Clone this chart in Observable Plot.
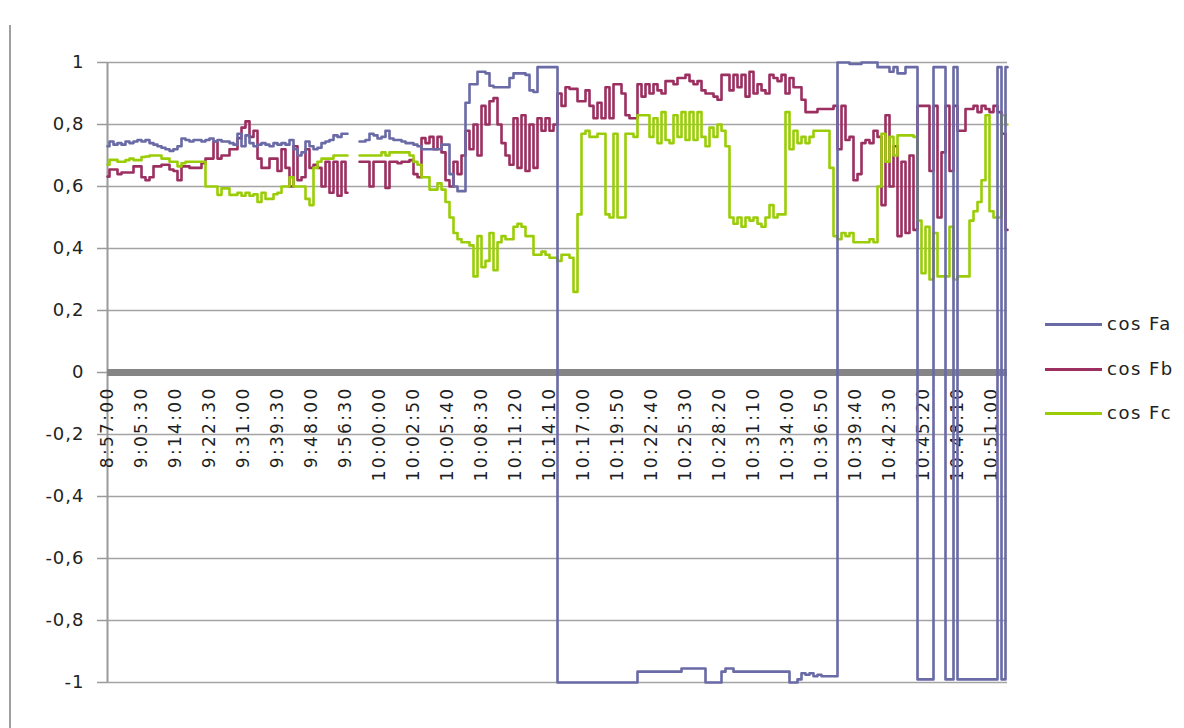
<!DOCTYPE html>
<html>
<head>
<meta charset="utf-8">
<script src="https://cdn.jsdelivr.net/npm/d3@7"></script>
<script src="https://cdn.jsdelivr.net/npm/@observablehq/plot@0.6"></script>
<style>
  html, body { margin: 0; padding: 0; background: #fff; }
  #wrap { position: relative; width: 1184px; height: 728px; overflow: hidden; font-family: "DejaVu Sans", sans-serif; }
  #frame { position: absolute; left: 9px; top: 25px; width: 0; height: 710px; border-left: 2px solid #a0a0a0; }
  #legend { position: absolute; left: 1045px; top: 310px; }
  .item { position: relative; height: 44.5px; }
  .item .sw { position: absolute; left: 0; top: 13px; width: 57px; height: 0; border-top: 3px solid; }
  .item .lb { position: absolute; left: 62px; top: 0; font-size: 18px; letter-spacing: 1.5px; color: #222; line-height: 28px; white-space: nowrap; }
  svg g[aria-label="y-axis"] line, svg g[aria-label="y-axis tick"] path, svg g[aria-label="y-axis tick"] { stroke: #9a9a9a; stroke-width: 1.5px; }
  svg g[aria-label="y-axis"] path.domain { display: none; }
</style>
</head>
<body>
<div id="wrap"><div id="frame"></div><div id="legend"></div></div>
<script>
// tick labels of the category axis (every 17th category)
const tickLabels = ["8:57:00","9:05:30","9:14:00","9:22:30","9:31:00","9:39:30","9:48:00","9:56:30",
  "10:00:00","10:02:50","10:05:40","10:08:30","10:11:20","10:14:10","10:17:00","10:19:50",
  "10:22:40","10:25:30","10:28:20","10:31:10","10:34:00","10:36:50","10:39:40","10:42:30",
  "10:45:20","10:48:10","10:51:00"];
const categoriesPerLabel = 8.5; // samples (every 2nd category) between two tick labels
const yTicks = [1, 0.8, 0.6, 0.4, 0.2, 0, -0.2, -0.4, -0.6, -0.8, -1];
const seriesNames = ["cos Fa", "cos Fb", "cos Fc"];
const seriesColors = ["#6a6aa6", "#9c2f60", "#9acd07"];

const cosFa = [
0.73,0.745,0.735,0.74,0.735,0.745,0.74,0.745,0.75,0.745,
0.75,0.74,0.735,0.73,0.725,0.72,0.715,0.72,0.73,0.755,
0.75,0.745,0.75,0.75,0.745,0.75,0.755,0.745,0.75,0.745,
0.745,0.74,0.735,0.77,0.73,0.765,0.74,0.73,0.735,0.74,
0.735,0.73,0.74,0.735,0.74,0.735,0.75,0.72,0.7,0.71,
0.745,0.73,0.72,0.725,0.74,0.745,0.75,0.765,0.76,0.77,
0.77,null,null,0.745,0.745,0.75,0.77,0.765,0.755,0.76,
0.78,0.755,0.75,0.75,0.745,0.74,0.74,0.735,0.73,0.72,
0.72,0.72,0.72,0.72,0.735,0.735,0.64,0.6,0.585,0.585,
0.87,0.93,0.93,0.97,0.97,0.965,0.925,0.92,0.92,0.92,
0.92,0.95,0.965,0.965,0.965,0.96,0.91,0.905,0.985,0.985,
0.985,0.985,0.985,-1,-1,-1,-1,-1,-1,-1,
-1,-1,-1,-1,-1,-1,-1,-1,-1,-1,
-1,-1,-1,-0.965,-0.965,-0.965,-0.965,-0.965,-0.965,-0.965,
-0.965,-0.965,-0.965,-0.965,-0.955,-0.955,-0.955,-0.955,-0.955,-0.955,
-1,-1,-1,-1,-0.965,-0.955,-0.955,-0.965,-0.965,-0.965,
-0.965,-0.965,-0.965,-0.965,-0.965,-0.965,-0.965,-0.965,-0.965,-0.965,
-0.965,-1,-1,-0.99,-0.97,-0.975,-0.97,-0.98,-0.975,-0.98,
-0.98,-0.98,-0.98,1,1,1,0.995,0.995,0.995,1,
1,1,1,0.985,0.985,0.985,0.97,0.985,0.965,0.965,
0.985,0.985,0.985,-0.99,-0.99,-0.99,-0.99,0.985,0.985,0.985,
-0.99,-0.99,0.985,-0.99,-0.99,-0.99,-0.99,-0.99,-0.99,-0.99,
-0.99,-0.99,-0.99,0.985,-0.99,0.985];

const cosFb = [
0.632,0.655,0.655,0.64,0.645,0.645,0.645,0.665,0.665,0.63,
0.62,0.63,0.665,0.665,0.67,0.67,0.655,0.65,0.62,0.665,
0.665,0.66,0.66,0.66,0.675,0.69,0.69,0.745,0.69,0.7,
0.7,0.72,0.72,0.756,0.79,0.81,0.76,0.78,0.69,0.66,
0.66,0.69,0.69,0.65,0.72,0.66,0.6,0.73,0.62,0.63,
0.72,0.66,0.67,0.66,0.6,0.68,0.58,0.68,0.57,0.68,
0.58,null,null,0.68,0.68,0.68,0.6,0.68,0.68,0.68,
0.595,0.68,0.68,0.675,0.68,0.68,0.685,0.64,0.63,0.756,
0.74,0.76,0.72,0.76,0.71,0.62,0.6,0.68,0.64,0.7,
0.78,0.72,0.8,0.7,0.86,0.8,0.875,0.885,0.8,0.74,
0.7,0.67,0.82,0.66,0.83,0.65,0.8,0.66,0.82,0.78,
0.82,0.78,0.8,0.9,0.86,0.92,0.915,0.915,0.875,0.875,
0.91,0.86,0.82,0.87,0.82,0.92,0.82,0.93,0.93,0.9,
0.83,0.82,0.82,0.93,0.89,0.93,0.9,0.93,0.91,0.9,
0.94,0.94,0.93,0.95,0.95,0.96,0.94,0.93,0.94,0.91,
0.9,0.9,0.89,0.88,0.96,0.96,0.91,0.96,0.92,0.96,
0.89,0.97,0.9,0.93,0.91,0.9,0.96,0.95,0.94,0.96,
0.9,0.95,0.92,0.92,0.88,0.84,0.84,0.84,0.85,0.85,
0.85,0.85,0.86,0.72,0.86,0.75,0.76,0.62,0.64,0.74,
0.75,0.74,0.78,0.76,0.54,0.83,0.6,0.73,0.44,0.68,
0.45,0.7,0.46,0.86,0.86,0.86,0.65,0.86,0.5,0.71,
0.86,0.65,0.86,0.78,0.78,0.85,0.85,0.86,0.84,0.86,
0.85,0.84,0.86,0.84,0.77,0.46];

const cosFc = [
0.67,0.686,0.686,0.68,0.68,0.685,0.69,0.685,0.685,0.695,
0.697,0.7,0.7,0.7,0.69,0.69,0.68,0.68,0.665,0.675,
0.68,0.68,0.68,0.68,0.68,0.6,0.6,0.6,0.573,0.594,
0.594,0.573,0.573,0.58,0.57,0.58,0.57,0.575,0.55,0.58,
0.56,0.56,0.575,0.58,0.6,0.6,0.63,0.6,0.6,0.6,
0.56,0.54,0.66,0.68,0.69,0.69,0.69,0.7,0.7,0.7,
0.7,null,null,0.7,0.7,0.7,0.7,0.7,0.7,0.71,
0.7,0.71,0.71,0.71,0.71,0.71,0.7,0.68,0.67,0.63,
0.63,0.59,0.59,0.61,0.59,0.55,0.5,0.45,0.43,0.42,
0.42,0.41,0.31,0.44,0.34,0.36,0.45,0.33,0.42,0.44,
0.43,0.43,0.47,0.48,0.47,0.44,0.44,0.38,0.38,0.39,
0.38,0.37,0.37,0.36,0.38,0.38,0.37,0.26,0.51,0.77,
0.78,0.76,0.76,0.77,0.77,0.51,0.5,0.77,0.5,0.5,
0.77,0.77,0.76,0.83,0.83,0.83,0.76,0.82,0.74,0.84,
0.75,0.74,0.83,0.76,0.84,0.75,0.84,0.75,0.84,0.76,
0.73,0.79,0.76,0.8,0.78,0.73,0.5,0.48,0.5,0.47,
0.5,0.49,0.5,0.48,0.47,0.5,0.54,0.5,0.51,0.51,
0.84,0.72,0.78,0.74,0.76,0.74,0.76,0.78,0.78,0.78,
0.78,0.66,0.44,0.43,0.45,0.44,0.45,0.42,0.42,0.42,
0.42,0.43,0.42,0.6,0.77,0.68,0.76,0.7,0.765,0.765,
0.765,0.765,0.76,0.49,0.32,0.47,0.3,0.45,0.31,0.31,
0.31,0.47,0.3,0.31,0.31,0.31,0.49,0.52,0.55,0.62,
0.83,0.52,0.5,0.5,0.83,0.8];

const rows = (vals, name) => vals.map((v, i) => ({i, v, name}));
const n = cosFa.length;
const fmt = d => String(d).replace(".", ",");
const labelRows = tickLabels.map((t, j) => ({t, i: j * categoriesPerLabel}));

const chart = Plot.plot({
  width: 1184,
  height: 728,
  marginLeft: 107,
  marginRight: 1184 - 1007,
  marginTop: 62,
  marginBottom: 46,
  style: {fontFamily: "DejaVu Sans", fontSize: "18px", color: "#222", background: "transparent", overflow: "visible", letterSpacing: "1px"},
  x: {type: "linear", domain: [0, n - 1], axis: null},
  y: {domain: [-1, 1], ticks: yTicks, tickSize: 10, tickPadding: 13, tickFormat: fmt, label: null},
  marks: [
    Plot.ruleY(yTicks, {stroke: "#a3a3a3", strokeWidth: 1.5}),
    Plot.ruleX([0], {stroke: "#9a9a9a", strokeWidth: 2}),
    Plot.ruleY([0], {stroke: "#858585", strokeWidth: 7}),
    Plot.text(labelRows, {x: "i", y: () => 0, text: "t", rotate: -90, textAnchor: "end", dy: 14, fontSize: 17, fill: "#1e1e1e"}),
    Plot.line(rows(cosFb, seriesNames[1]), {x: "i", y: "v", stroke: seriesColors[1], strokeWidth: 2.6, curve: "step", defined: d => d.v != null}),
    Plot.line(rows(cosFc, seriesNames[2]), {x: "i", y: "v", stroke: seriesColors[2], strokeWidth: 2.6, curve: "step", defined: d => d.v != null}),
    Plot.line(rows(cosFa, seriesNames[0]), {x: "i", y: "v", stroke: seriesColors[0], strokeWidth: 2.6, curve: "step", defined: d => d.v != null})
  ]
});
// wider letter spacing for the rotated category labels
chart.querySelectorAll("text").forEach(t => {
  if ((t.getAttribute("transform") || "").includes("rotate")) t.style.letterSpacing = "2.3px";
});
const wrap = document.getElementById("wrap");
chart.style.position = "absolute";
chart.style.left = "0px";
chart.style.top = "0px";
wrap.insertBefore(chart, wrap.firstChild);

const legend = document.getElementById("legend");
seriesNames.forEach((name, k) => {
  const it = document.createElement("div");
  it.className = "item";
  it.innerHTML = `<div class="sw" style="border-color:${seriesColors[k]}"></div><div class="lb">${name}</div>`;
  legend.appendChild(it);
});
</script>
</body>
</html>
